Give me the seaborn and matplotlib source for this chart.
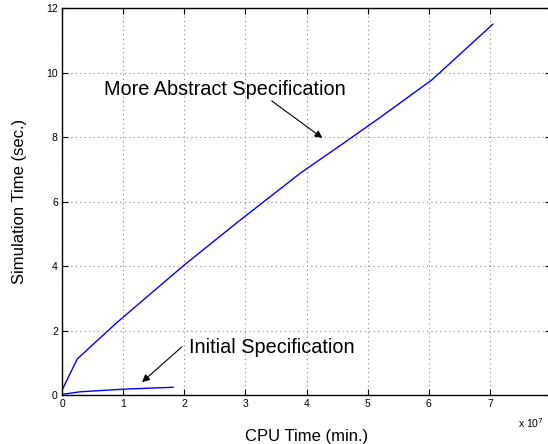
import matplotlib
matplotlib.use("Agg")
import matplotlib.pyplot as plt
import seaborn as sns
import pandas as pd

# CPU time in units of 1e7 min, simulation time in sec
abstract_x = [0, 0.25, 0.9, 1.35, 2.0, 2.9, 3.9, 4.6, 5.2, 6.05, 7.05]
abstract_y = [0.15, 1.12, 2.25, 2.98, 4.03, 5.4, 6.88, 7.8, 8.6, 9.77, 11.5]
initial_x = [0, 0.3, 1.0, 1.82]
initial_y = [0.02, 0.1, 0.18, 0.24]
x_ticks = [0, 1, 2, 3, 4, 5, 6, 7, 8]
x_tick_labels = ["0", "1", "2", "3", "4", "5", "6", "7", ""]
y_ticks = [0, 2, 4, 6, 8, 10, 12]

sns.set_style("white")
plt.rcParams['font.family'] = ['Liberation Sans', 'DejaVu Sans']
plt.rcParams['text.color'] = 'black'
plt.rcParams['axes.labelcolor'] = 'black'

fig = plt.figure(figsize=(5.48, 4.44), dpi=100)
ax = fig.add_axes([62 / 548, 49 / 444, 489 / 548, 387 / 444])

df_a = pd.DataFrame({"x": abstract_x, "y": abstract_y})
df_i = pd.DataFrame({"x": initial_x, "y": initial_y})
sns.lineplot(data=df_a, x="x", y="y", ax=ax, color="#0000ff", lw=1.0, sort=False)
sns.lineplot(data=df_i, x="x", y="y", ax=ax, color="#0000ff", lw=1.0, sort=False)

ax.set_xlim(0, 8)
ax.set_ylim(0, 12)
ax.set_xticks(x_ticks)
ax.set_yticks(y_ticks)
ax.set_xticklabels(x_tick_labels, fontsize=7.5)
ax.set_yticklabels([str(t) for t in y_ticks], fontsize=7.5)
ax.grid(True, linestyle=(0, (1, 3)), color="#888888", lw=0.8)
ax.tick_params(direction="in", length=4, width=0.8, top=True, right=True,
               bottom=True, left=True, pad=3, colors="black")
for s in ax.spines.values():
    s.set_color("black")
    s.set_linewidth(1.0)

ax.set_xlabel("CPU Time (min.)", fontsize=12, labelpad=14)
ax.set_ylabel("Simulation Time (sec.)", fontsize=12, labelpad=14)
fig.text(531 / 548, 1 - 423 / 444, "x 10$^7$", fontsize=7.5, ha="center", va="center")

ax.text(2.66, 9.46, "More Abstract Specification", fontsize=14.3, ha="center", va="center")
ax.annotate("", xy=(4.26, 7.97), xytext=(3.43, 9.12),
            arrowprops=dict(arrowstyle="-|>", color="black", lw=0.8,
                            shrinkA=0, shrinkB=0, mutation_scale=11))
ax.text(3.43, 1.46, "Initial Specification", fontsize=14.3, ha="center", va="center")
ax.annotate("", xy=(1.31, 0.40), xytext=(1.96, 1.49),
            arrowprops=dict(arrowstyle="-|>", color="black", lw=0.8,
                            shrinkA=0, shrinkB=0, mutation_scale=11))

fig.savefig("out.png", dpi=100)
